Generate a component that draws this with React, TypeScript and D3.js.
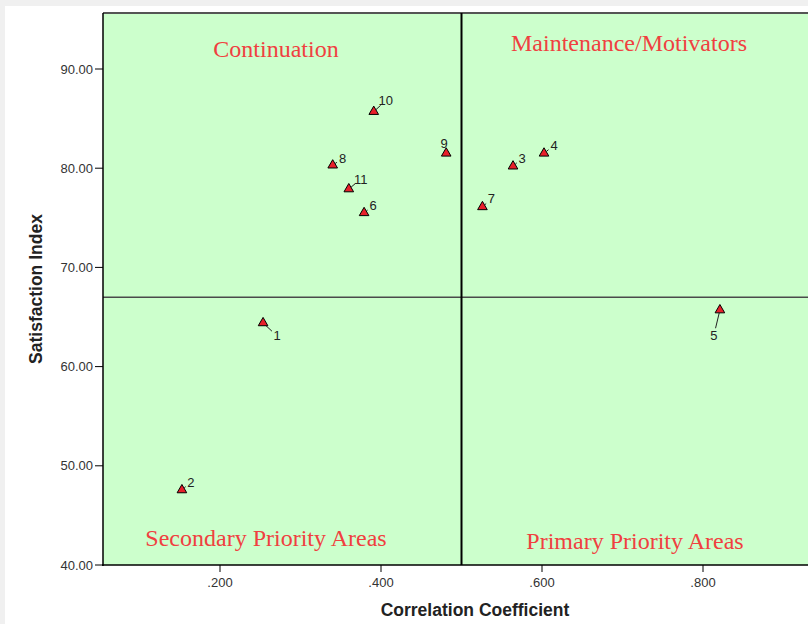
import React, { useEffect, useRef } from 'react';
import * as d3 from 'd3';

// item numbers and their (correlation, satisfaction) values
const ids = ['1', '2', '3', '4', '5', '6', '7', '8', '9', '10', '11'];
const correlation = [0.2535, 0.1527, 0.564, 0.6025, 0.821, 0.379, 0.526, 0.340, 0.481, 0.391, 0.360];
const satisfaction = [64.4, 47.56, 80.2, 81.5, 65.7, 75.5, 76.1, 80.3, 81.5, 85.7, 77.9];

const xTicks = [0.2, 0.4, 0.6, 0.8];
const yTicks = [40, 50, 60, 70, 80, 90];

const xRef = 0.5;
const yRef = 67.0;

const quadrants = ['Continuation', 'Maintenance/Motivators', 'Secondary Priority Areas', 'Primary Priority Areas'];

// label offsets in px (dx, dy) from marker, and whether a leader line is drawn
const labelOffset: Record<string, [number, number, boolean]> = {
  '1': [14, 13, true],
  '2': [9, -8, true],
  '3': [9, -8, true],
  '4': [10, -8, true],
  '5': [-6, 25, true],
  '6': [9, -7, true],
  '7': [9, -8, true],
  '8': [10, -7, true],
  '9': [-2, -10, false],
  '10': [12, -11, true],
  '11': [12, -10, true]
};

export default function App() {
  const ref = useRef<SVGSVGElement | null>(null);

  useEffect(() => {
    const svg = d3.select(ref.current);
    svg.selectAll('*').remove();
    const W = 808, H = 624;
    const left = 103, top = 13, bottom = 565;

    const x = d3.scaleLinear().domain([0.2, 0.8]).range([220, 703]);
    const y = d3.scaleLinear().domain([40, 90]).range([bottom, 69]);
    const right = W + 20;

    svg.append('rect').attr('width', W).attr('height', H).attr('fill', '#f0f0f0');
    svg.append('rect').attr('x', 5).attr('y', 6).attr('width', W).attr('height', H).attr('fill', '#ffffff');

    // plot background
    svg.append('rect')
      .attr('x', left).attr('y', top)
      .attr('width', right - left).attr('height', bottom - top)
      .attr('fill', '#ccffcc');
    svg.append('line')
      .attr('x1', left).attr('x2', right).attr('y1', top).attr('y2', top)
      .attr('stroke', '#555').attr('stroke-width', 2);

    // reference lines
    svg.append('line')
      .attr('x1', left).attr('x2', right).attr('y1', y(yRef)).attr('y2', y(yRef))
      .attr('stroke', '#4a4a4a').attr('stroke-width', 1.5);
    svg.append('line')
      .attr('x1', x(xRef)).attr('x2', x(xRef)).attr('y1', top).attr('y2', bottom)
      .attr('stroke', '#000').attr('stroke-width', 2);

    // axes
    const font = 'Arial, "Liberation Sans", sans-serif';
    const gy = svg.append('g');
    gy.append('line').attr('x1', left).attr('x2', left).attr('y1', top).attr('y2', bottom + 1)
      .attr('stroke', '#000').attr('stroke-width', 1.5);
    gy.selectAll('g.t').data(yTicks).enter().append('g').each(function (d) {
      const g = d3.select(this);
      g.append('line').attr('x1', left - 8).attr('x2', left).attr('y1', y(d)).attr('y2', y(d))
        .attr('stroke', '#000');
      g.append('text').attr('x', left - 10).attr('y', y(d) + 4.5)
        .attr('text-anchor', 'end').attr('font-family', font).attr('font-size', 13)
        .attr('fill', '#333').text(d3.format('.2f')(d));
    });

    const gx = svg.append('g');
    gx.append('line').attr('x1', left - 1).attr('x2', right).attr('y1', bottom).attr('y2', bottom)
      .attr('stroke', '#000').attr('stroke-width', 1.5);
    gx.selectAll('g.t').data(xTicks).enter().append('g').each(function (d) {
      const g = d3.select(this);
      g.append('line').attr('x1', x(d)).attr('x2', x(d)).attr('y1', bottom).attr('y2', bottom + 7)
        .attr('stroke', '#000');
      g.append('text').attr('x', x(d)).attr('y', bottom + 22)
        .attr('text-anchor', 'middle').attr('font-family', font).attr('font-size', 13)
        .attr('fill', '#333').text(d3.format('.3f')(d).replace(/^0/, ''));
    });

    svg.append('text').attr('x', 475).attr('y', 616)
      .attr('text-anchor', 'middle').attr('font-family', font).attr('font-size', 17.5)
      .attr('font-weight', 'bold').attr('fill', '#222').text('Correlation Coefficient');
    svg.append('text').attr('transform', 'translate(42 289) rotate(-90)')
      .attr('text-anchor', 'middle').attr('font-family', font).attr('font-size', 17.5)
      .attr('font-weight', 'bold').attr('fill', '#222').text('Satisfaction Index');

    // quadrant titles
    const qPos: [number, number][] = [[276, 57], [629, 51], [266, 546], [635, 549]];
    svg.selectAll('text.q').data(quadrants).enter().append('text')
      .attr('x', (d, i) => qPos[i][0]).attr('y', (d, i) => qPos[i][1])
      .attr('text-anchor', 'middle')
      .attr('font-family', '"Liberation Serif", "Times New Roman", serif')
      .attr('font-size', 24).attr('fill', '#f04040').text(d => d);

    // points
    const data = ids.map((id, i) => ({ id, cx: x(correlation[i]), cy: y(satisfaction[i]) }));
    const tri = d3.symbol().type(d3.symbolTriangle).size(40);
    const gp = svg.append('g');
    data.forEach(d => {
      const [dx, dy, lead] = labelOffset[d.id];
      if (lead) {
        const len = Math.hypot(dx, dy);
        const ux = dx / len, uy = dy / len;
        gp.append('line')
          .attr('x1', d.cx + ux * 3).attr('y1', d.cy + uy * 3)
          .attr('x2', d.cx + ux * (len - 7)).attr('y2', d.cy + uy * (len - 7))
          .attr('stroke', '#222').attr('stroke-width', 1);
      }
      gp.append('path').attr('d', tri() as string)
        .attr('transform', `translate(${d.cx} ${d.cy})`)
        .attr('fill', '#e8202a').attr('stroke', '#000').attr('stroke-width', 1);
      gp.append('text').attr('x', d.cx + dx).attr('y', d.cy + dy + 4.5)
        .attr('text-anchor', 'middle').attr('font-family', font).attr('font-size', 13)
        .attr('fill', '#222').text(d.id);
    });
  }, []);

  return (
    <svg ref={ref} width={808} height={624}
      style={{ position: 'absolute', left: 0, top: 0, display: 'block' }} />
  );
}
